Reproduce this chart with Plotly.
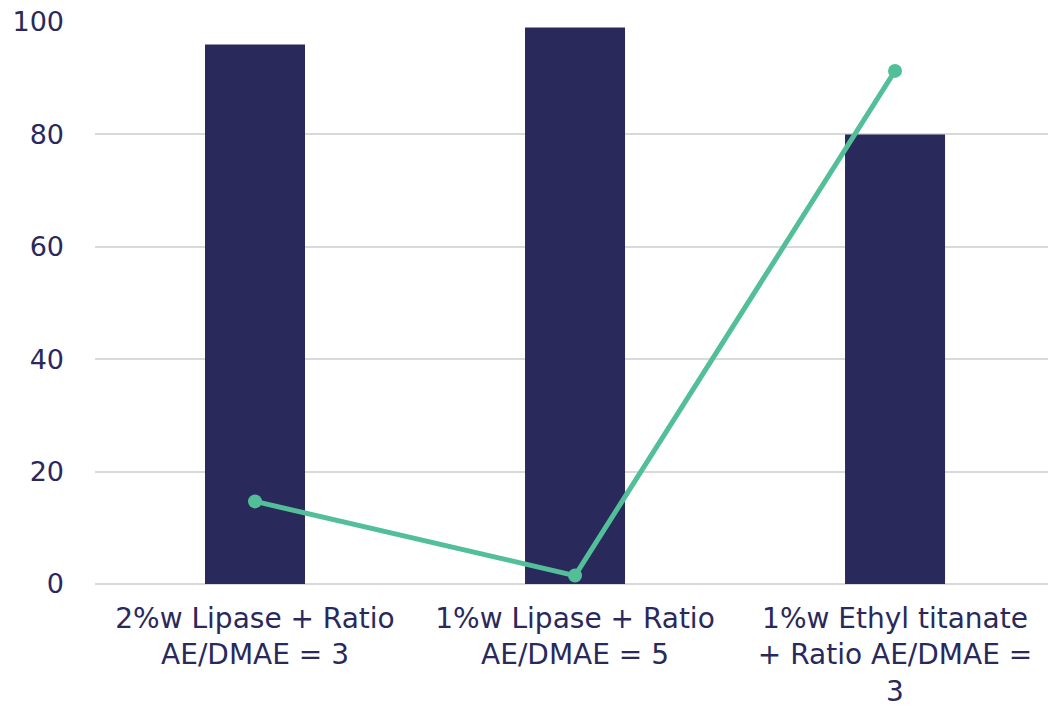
import plotly.graph_objects as go

categories = [
    "2%w Lipase + Ratio<br>AE/DMAE = 3",
    "1%w Lipase + Ratio<br>AE/DMAE = 5",
    "1%w Ethyl titanate<br>+ Ratio AE/DMAE =<br>3",
]
bar_values = [96, 99, 80]
line_values = [14.7, 1.5, 91.3]
y_ticks = [0, 20, 40, 60, 80, 100]

navy = "#29295C"
green = "#52BF98"
font_family = "DejaVu Sans, sans-serif"

x_pos = list(range(len(categories)))

fig = go.Figure()
fig.add_trace(go.Bar(
    x=x_pos, y=bar_values, width=0.3125,
    marker=dict(color=navy, line=dict(width=0)),
    showlegend=False,
))
fig.add_trace(go.Scatter(
    x=x_pos, y=line_values, mode="lines+markers",
    line=dict(color=green, width=5),
    marker=dict(color=green, size=14),
    showlegend=False,
))

fig.update_layout(
    width=1048, height=711,
    margin=dict(l=95, r=0, t=22, b=127),
    paper_bgcolor="white", plot_bgcolor="white",
    font=dict(family=font_family, size=27, color=navy),
    xaxis=dict(
        tickmode="array", tickvals=x_pos, ticktext=categories,
        range=[-0.5, 2.478], showgrid=False, zeroline=False,
        showline=False, ticks="", tickangle=0, ticklabelstandoff=15,
        tickfont=dict(size=28), automargin=False,
    ),
    yaxis=dict(
        range=[0, 100], tickvals=y_ticks, showgrid=True,
        gridcolor="#D9D9D9", gridwidth=1.5, zeroline=True,
        zerolinecolor="#D9D9D9", zerolinewidth=1.5, showline=False,
        ticks="", ticklabelstandoff=30, automargin=False,
    ),
)

fig.write_html("out.html")
